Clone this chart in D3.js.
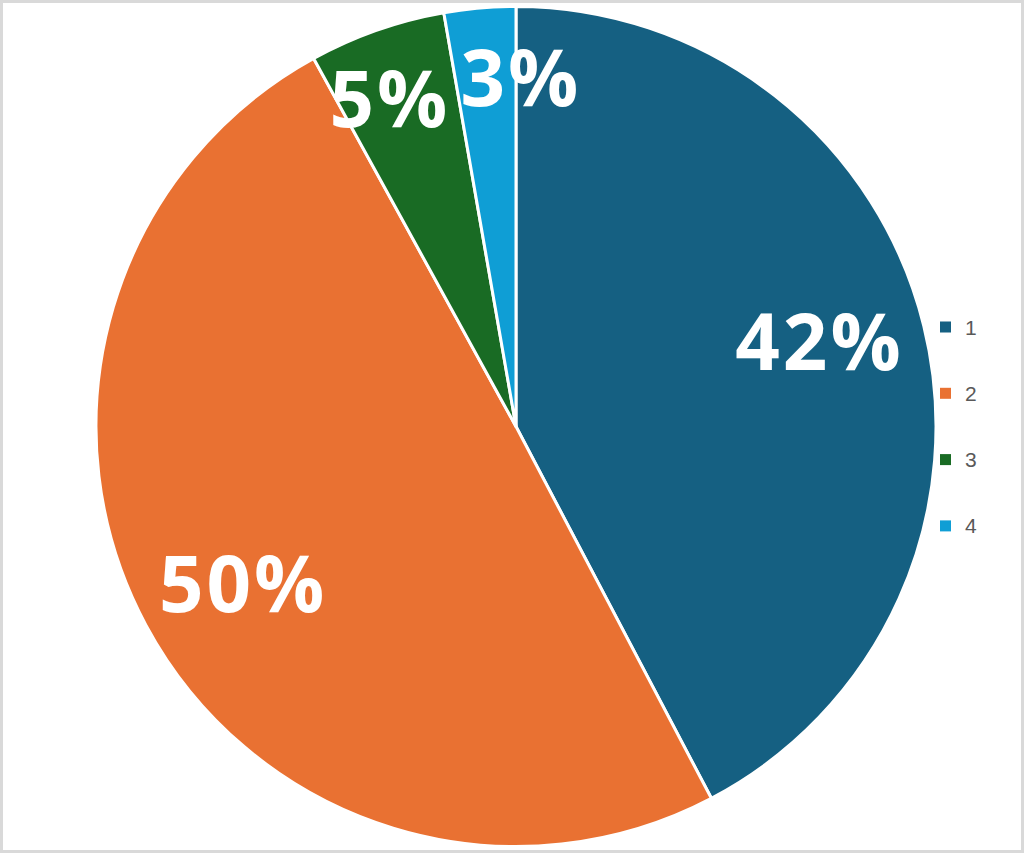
<!DOCTYPE html>
<html>
<head>
<meta charset="utf-8">
<script src="https://cdn.jsdelivr.net/npm/d3@7"></script>
<style>
	body { margin: 0; background: #fff; }
	svg { display: block; }
</style>
</head>
<body>
<svg id="chart" width="1024" height="853"></svg>
<script>
	//chart data
var categories = ['1', '2', '3', '4'];
var values = [42.3, 49.7, 5.25, 2.75];
var colors = ['#156082', '#E97132', '#196B24', '#0F9ED5'];

var svg = d3.select('#chart');
var width = +svg.attr('width'),
	height = +svg.attr('height');

	//outer frame
svg.append('rect')
	.attr('x', 1.5).attr('y', 1.5)
	.attr('width', width - 3).attr('height', height - 3)
	.attr('fill', '#fff')
	.attr('stroke', '#d9d9d9')
	.attr('stroke-width', 3);

var cx = 516, cy = 426.5, radius = 420;
var total = d3.sum(values);

var pie = d3.pie().sort(null).value(function(d) { return d.value; });
var data = categories.map(function(c, i) { return {name: c, value: values[i], color: colors[i]}; });
var arcs = pie(data);

var arc = d3.arc().innerRadius(0).outerRadius(radius);

var g = svg.append('g').attr('transform', 'translate(' + cx + ',' + cy + ')');

g.selectAll('path.slice')
	.data(arcs)
	.enter().append('path')
	.attr('class', 'slice')
	.attr('d', arc)
	.attr('fill', function(d) { return d.data.color; })
	.attr('stroke', '#fff')
	.attr('stroke-width', 3)
	.attr('stroke-linejoin', 'round');

	//label anchor points, small slices pushed further out
arcs.forEach(function(d) {
	var lr = d.data.value > 10 ? radius * 0.75 : radius * 0.835;
	var a = (d.startAngle + d.endAngle) / 2 - 0.03;
	d.lx = lr * Math.sin(a);
	d.ly = -lr * Math.cos(a);
});

var fmt = d3.format('.0%');
var labels = g.selectAll('text.label')
	.data(arcs)
	.enter().append('text')
	.attr('class', 'label')
	.attr('x', function(d) { return d.lx; })
	.attr('y', function(d) { return d.ly; })
	.attr('text-anchor', 'middle')
	.attr('dy', '0.36em')
	.attr('fill', '#fff')
	.style('font-family', '"Open Sans", sans-serif')
	.style('font-weight', 700)
	.style('font-size', '78px')
	.style('letter-spacing', '3px')
	.text(function(d) { return fmt(d.data.value / total); });

	//if neighbouring labels collide, move the smaller slice's label away
labels.each(function(d) { d.w = this.getBBox().width; });
for (var i = 0; i < arcs.length; i++) {
	var a1 = arcs[i], a2 = arcs[(i + 1) % arcs.length];
	var need = (a1.w + a2.w) / 2 + 10;
	var dist = Math.abs(a2.lx - a1.lx);
	if (Math.abs(a2.ly - a1.ly) < 60 && dist < need) {
		var push = need - dist;
		var dir = a2.lx > a1.lx ? 1 : -1;
		if (a2.data.value < a1.data.value) a2.lx += dir * push;
		else a1.lx -= dir * push;
	}
}
labels.attr('x', function(d) { return d.lx; });

	//legend
var legend = svg.append('g').attr('transform', 'translate(940,327)');
var item = legend.selectAll('g.item')
	.data(data)
	.enter().append('g')
	.attr('class', 'item')
	.attr('transform', function(d, i) { return 'translate(0,' + (i * 66.3) + ')'; });

item.append('rect')
	.attr('x', 0).attr('y', -5.5)
	.attr('width', 11).attr('height', 11)
	.attr('fill', function(d) { return d.color; });

item.append('text')
	.attr('x', 25)
	.attr('dy', '0.36em')
	.attr('fill', '#595959')
	.style('font-family', '"Liberation Sans", Arial, sans-serif')
	.style('font-size', '21px')
	.text(function(d) { return d.name; });
</script>
</body>
</html>
